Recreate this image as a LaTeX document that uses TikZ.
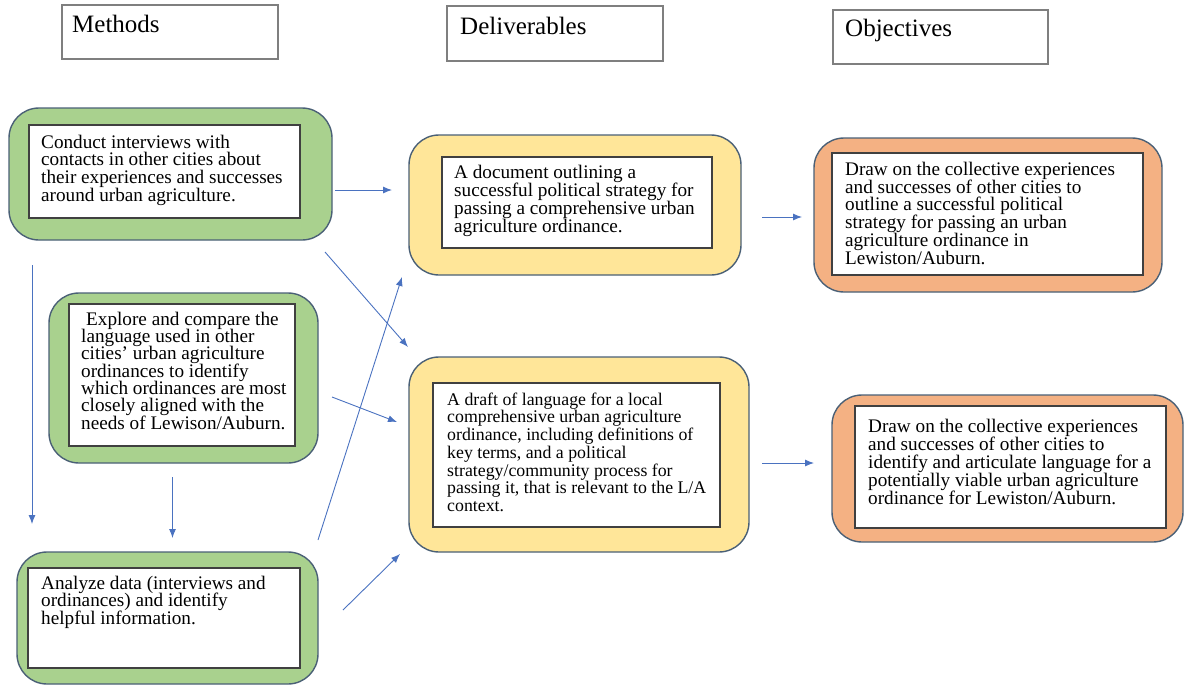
\documentclass[tikz,border=0pt]{standalone}
\usepackage{fontspec}
\setmainfont{Liberation Serif}
\usetikzlibrary{arrows.meta}
\definecolor{gfill}{HTML}{A9D18E}
\definecolor{yfill}{HTML}{FFE699}
\definecolor{ofill}{HTML}{F4B183}
\definecolor{bordc}{HTML}{4A6076}
\definecolor{innc}{HTML}{404040}
\definecolor{hdrc}{HTML}{7F7F7F}
\definecolor{arrc}{HTML}{4A72C0}
\newcommand{\bfont}[2]{\fontsize{#1}{#2}\selectfont\lineskiplimit=-50pt\relax}
\tikzset{
  outerbox/.style={draw=bordc, line width=1.4pt, rounded corners=30pt, inner sep=0pt},
  gbox/.style={outerbox, fill=gfill},
  ybox/.style={outerbox, fill=yfill},
  obox/.style={outerbox, fill=ofill},
  innerbox/.style={draw=innc, line width=1.2pt, fill=white, inner sep=0pt},
  hdrbox/.style={draw=hdrc, line width=1.2pt, fill=white, inner sep=0pt},
  hdrtext/.style={font=\fontsize{25}{30}\selectfont, anchor=base west, inner sep=0pt},
  bodytext/.style={align=left, anchor=north west, inner sep=0pt, font=\bfont{19.2}{17.6}},
  arr/.style={draw=arrc, line width=0.9pt, -{Latex[length=9pt,width=7pt]}}
}
\newcommand{\fstrut}{\rule{0pt}{14pt}}
\begin{document}
\begin{tikzpicture}[x=1pt,y=-1pt]
\useasboundingbox (0,0) rectangle (1184,686);

% headers
\node[hdrbox, minimum width=216pt, minimum height=54pt] (hm) at (170,32) {};
\node[hdrtext] (hmt) at (72,32) {Methods};
\node[hdrbox, minimum width=216pt, minimum height=55pt] (hd) at (555,33.5) {};
\node[hdrtext] (hdt) at (460,34) {Deliverables};
\node[hdrbox, minimum width=215pt, minimum height=54pt] (ho) at (940.5,37) {};
\node[hdrtext] (hot) at (845,36) {Objectives};

% green boxes
\node[gbox, minimum width=323pt, minimum height=132pt] (g1) at (170.5,174) {};
\node[innerbox, minimum width=271pt, minimum height=93pt] (g1i) at (164.5,171.5) {};
\node[bodytext] (g1t) at (41,134) {\fstrut Conduct interviews with\\contacts in other cities about\\their experiences and successes\\around urban agriculture.};

\node[gbox, minimum width=269pt, minimum height=170pt] (g2) at (183.5,378) {};
\node[innerbox, minimum width=226pt, minimum height=142pt] (g2i) at (182,375) {};
\node[bodytext, font=\bfont{19.2}{17.3}] (g2t) at (81,311) {\fstrut\hspace*{5pt}Explore and compare the\\language used in other\\cities’ urban agriculture\\ordinances to identify\\which ordinances are most\\closely aligned with the\\needs of Lewison/Auburn.};

\node[gbox, minimum width=301pt, minimum height=132pt] (g3) at (167.5,618) {};
\node[innerbox, minimum width=272pt, minimum height=100pt] (g3i) at (164,618) {};
\node[bodytext, font=\bfont{19.2}{17.5}] (g3t) at (41,575) {\fstrut Analyze data (interviews and\\ordinances) and identify\\helpful information.};

% yellow boxes
\node[ybox, minimum width=332pt, minimum height=140pt] (y1) at (575,205) {};
\node[innerbox, minimum width=270pt, minimum height=91pt] (y1i) at (577,202.5) {};
\node[bodytext, font=\bfont{19.2}{18}] (y1t) at (454,164) {\fstrut A document outlining a\\successful political strategy for\\passing a comprehensive urban\\agriculture ordinance.};

\node[ybox, minimum width=340pt, minimum height=195pt] (y2) at (579,454.5) {};
\node[innerbox, minimum width=287pt, minimum height=144pt] (y2i) at (576.5,455) {};
\node[bodytext, font=\bfont{17.8}{17.7}] (y2t) at (447,391) {\fstrut A draft of language for a local\\comprehensive urban agriculture\\ordinance, including definitions of\\key terms, and a political\\strategy/community process for\\passing it, that is relevant to the L/A\\context.};

% orange boxes
\node[obox, minimum width=348pt, minimum height=154pt] (o1) at (988,215) {};
\node[innerbox, minimum width=311pt, minimum height=122pt] (o1i) at (987.5,214) {};
\node[bodytext, font=\bfont{19.2}{17.8}] (o1t) at (845,161) {\fstrut Draw on the collective experiences\\and successes of other cities to\\outline a successful political\\strategy for passing an urban\\agriculture ordinance in\\Lewiston/Auburn.};

\node[obox, minimum width=351pt, minimum height=147pt] (o2) at (1007.5,468.5) {};
\node[innerbox, minimum width=311pt, minimum height=122pt] (o2i) at (1010.5,467) {};
\node[bodytext, font=\bfont{19.2}{18}] (o2t) at (868,418) {\fstrut Draw on the collective experiences\\and successes of other cities to\\identify and articulate language for a\\potentially viable urban agriculture\\ordinance for Lewiston/Auburn.};

% arrow end points
\coordinate (a1s) at (335,190);   \coordinate (a1e) at (392,190);
\coordinate (a2s) at (762,217);   \coordinate (a2e) at (802,217);
\coordinate (a3s) at (762,463);   \coordinate (a3e) at (814,463);
\coordinate (a4s) at (32,265);    \coordinate (a4e) at (32,524);
\coordinate (a5s) at (172.5,477); \coordinate (a5e) at (172.5,538);
\coordinate (a6s) at (325,252);   \coordinate (a6e) at (408,347);
\coordinate (a7s) at (318,540);   \coordinate (a7e) at (402,277);
\coordinate (a8s) at (332,397);   \coordinate (a8e) at (397,422);
\coordinate (a9s) at (343,610);   \coordinate (a9e) at (400,554);

\draw[arr] (a1s) -- (a1e);
\draw[arr] (a2s) -- (a2e);
\draw[arr] (a3s) -- (a3e);
\draw[arr] (a4s) -- (a4e);
\draw[arr] (a5s) -- (a5e);
\draw[arr] (a6s) -- (a6e);
\draw[arr] (a7s) -- (a7e);
\draw[arr] (a8s) -- (a8e);
\draw[arr] (a9s) -- (a9e);
\end{tikzpicture}
\end{document}
